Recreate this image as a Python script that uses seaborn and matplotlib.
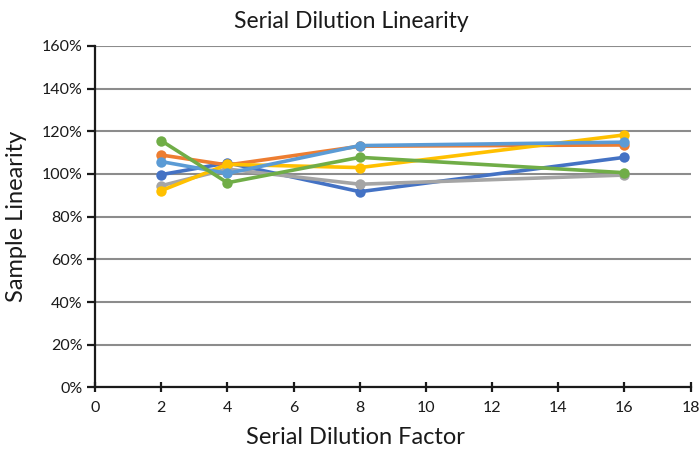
import matplotlib
matplotlib.use("Agg")
import matplotlib.pyplot as plt
import seaborn as sns
import pandas as pd
from matplotlib.ticker import PercentFormatter, MultipleLocator

dilution = [2, 4, 8, 16]
series_names = ["S1", "S2", "S3", "S4", "S5", "S6"]
s1_blue = [99.7, 105.2, 91.7, 107.8]
s2_orange = [108.9, 104.2, 113.0, 113.6]
s3_gray = [94.5, 102.3, 95.2, 99.5]
s4_yellow = [92.2, 104.5, 103.0, 118.3]
s5_lightblue = [105.8, 100.3, 113.3, 114.9]
s6_green = [115.6, 95.9, 107.8, 100.6]
colors = ["#4472C4", "#ED7D31", "#A5A5A5", "#FFC000", "#5B9BD5", "#70AD47"]

values = [s1_blue, s2_orange, s3_gray, s4_yellow, s5_lightblue, s6_green]
rows = []
for name, vals in zip(series_names, values):
    for x, v in zip(dilution, vals):
        rows.append({"x": x, "y": v, "series": name})
df = pd.DataFrame(rows)

sns.set_theme(style="white")
plt.rcParams["font.family"] = ["Lato", "DejaVu Sans"]

fig = plt.figure(figsize=(6.99, 4.5), dpi=100)
ax = fig.add_axes([0.136, 0.139, 0.852, 0.759])

sns.lineplot(data=df, x="x", y="y", hue="series", hue_order=series_names,
             palette=colors, marker="o", markersize=7.5, markeredgewidth=0,
             linewidth=2.6, legend=False, ax=ax, zorder=3)

ax.set_xlim(0, 18)
ax.set_ylim(0, 160)
ax.xaxis.set_major_locator(MultipleLocator(2))
ax.yaxis.set_major_locator(MultipleLocator(20))
ax.yaxis.set_major_formatter(PercentFormatter(xmax=100, decimals=0))

ax.grid(axis="y", color="#8C8C8C", linewidth=1.5)
ax.set_axisbelow(True)
for s in ["top", "right"]:
    ax.spines[s].set_visible(False)
for s in ["left", "bottom"]:
    ax.spines[s].set_color("#1A1A1A")
    ax.spines[s].set_linewidth(1.6)

ax.tick_params(axis="y", direction="out", length=6, width=1.6, color="#1A1A1A",
               labelsize=11.5, pad=3, left=True, labelcolor="#1A1A1A")
ax.tick_params(axis="x", direction="inout", length=7, width=1.6, color="#1A1A1A",
               labelsize=11.5, pad=6, bottom=True, labelcolor="#1A1A1A")

ax.set_xlabel("Serial Dilution Factor", fontsize=17, color="#1A1A1A")
ax.xaxis.set_label_coords(0.437, -0.115)
ax.set_ylabel("Sample Linearity", fontsize=17, color="#1A1A1A")
ax.yaxis.set_label_coords(-0.115, 0.5)
ax.set_title("Serial Dilution Linearity", fontsize=16.5, x=0.43, pad=13,
             color="#1A1A1A")

fig.savefig("out.png", dpi=100)
